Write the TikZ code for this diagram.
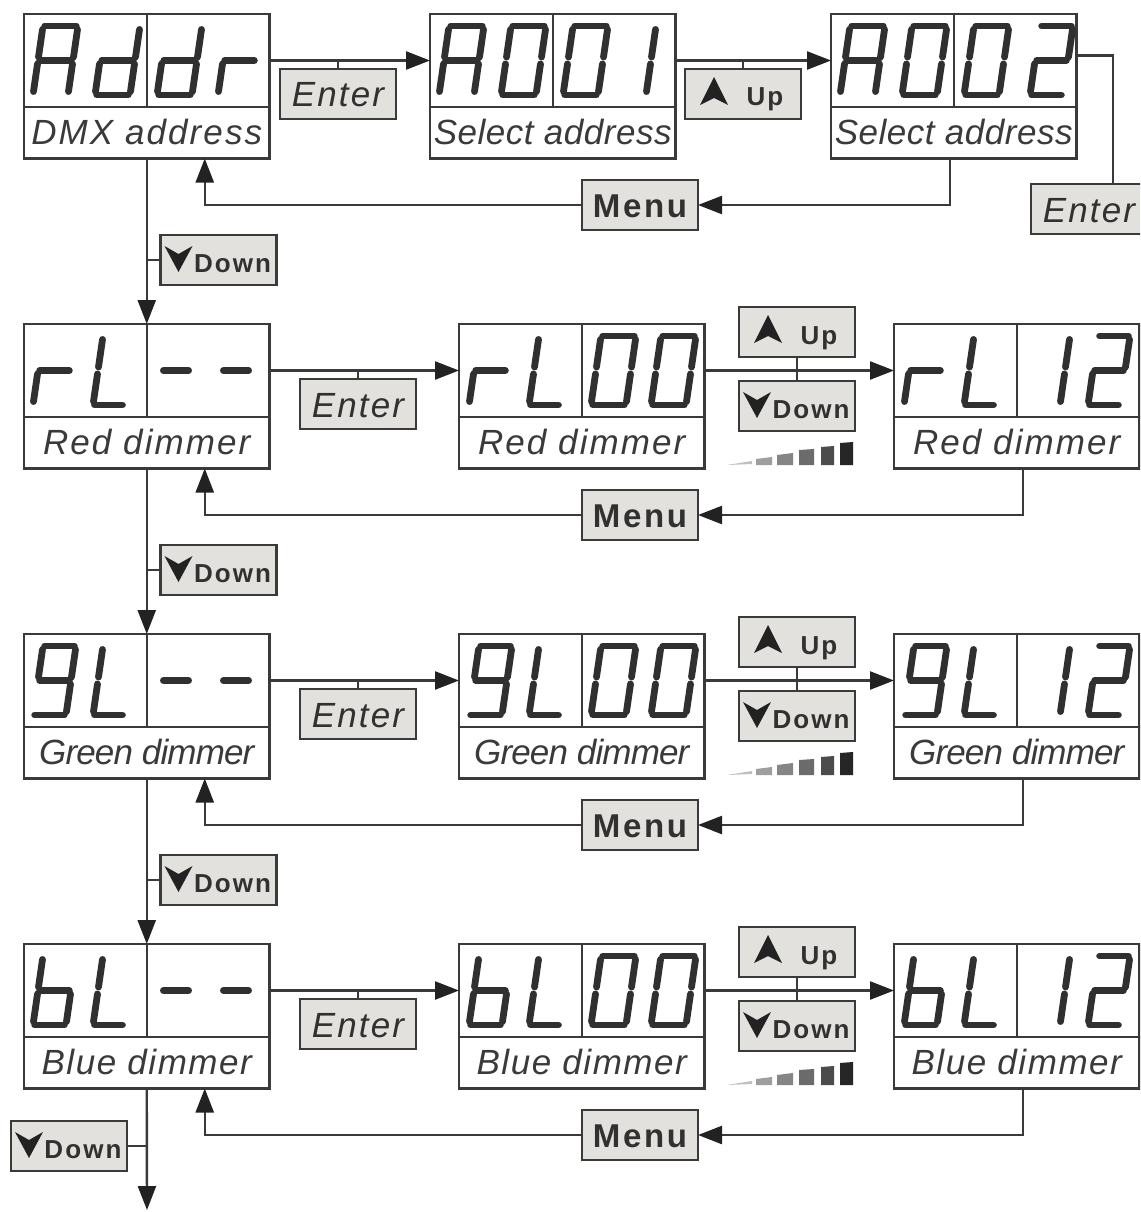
\documentclass[tikz,border=0pt]{standalone}
\usepackage{fontspec}
\setmainfont{Liberation Sans}
\usetikzlibrary{arrows.meta,calc}
\definecolor{ink}{HTML}{3A3A3A}
\definecolor{seg}{HTML}{303030}
\definecolor{btn}{HTML}{E2E1DD}
\definecolor{tip}{HTML}{222222}
\tikzset{
  panel/.style={draw=ink,line width=2.4pt,fill=white,inner sep=0pt,outer sep=0pt,text=ink,font=\itshape\fontsize{35}{38}\selectfont},
  dispT/.style={panel,minimum width=245.5pt,minimum height=93pt},
  dispL/.style={panel,minimum width=245.5pt,minimum height=51.5pt,text height=24pt,text depth=0pt},
  button/.style={draw=ink,line width=2.4pt,fill=btn,inner sep=0pt,outer sep=0pt,minimum width=116pt,minimum height=50.5pt,text=ink!85!black,text depth=0pt},
  enterbtn/.style={button,text height=26pt,font=\itshape\fontsize{35}{38}\selectfont},
  menubtn/.style={button,text height=24.5pt,font=\bfseries\fontsize{33}{36}\selectfont},
  smallbtn/.style={button,text height=24pt,font=\bfseries\fontsize{26}{30}\selectfont},
  wire/.style={draw=ink,line width=2.4pt},
  arr/.style={wire,-{Triangle[length=24pt,width=18pt,color=tip]}},
  segline/.style={draw=seg,line width=6.8pt,line cap=round}
}
\newcommand{\lsp}[2]{\addfontfeature{LetterSpace=#1}#2}
\def\sga{\draw[segline] (.05,1)--(.95,1);}
\def\sgb{\draw[segline] (1,.95)--(1,.55);}
\def\sgc{\draw[segline] (1,.45)--(1,.05);}
\def\sgd{\draw[segline] (.05,0)--(.95,0);}
\def\sge{\draw[segline] (0,.45)--(0,.05);}
\def\sgf{\draw[segline] (0,.95)--(0,.55);}
\def\sgg{\draw[segline] (.05,.5)--(.95,.5);}
% x of the lower left corner, y of the baseline, width, list of segments
\newcommand{\seven}[4]{%
  \begin{scope}[shift={(#1,#2)},x={(#3pt,0pt)},y={(10pt,69pt)}]
    \foreach \s in {#4} {\csname sg\s\endcsname}
  \end{scope}}
% name, left, top, label
\newcommand{\dispbox}[4]{%
  \node[dispT] (#1T) at (#2+122.75,#3+46.5) {};
  \node[dispL] (#1L) at (#2+122.75,#3+118.75) {#4};
  \draw[wire] (#1T.north) -- (#1T.south);}
\newcommand{\downbtn}[3]{% name, x, y
  \node[smallbtn] (#1) at (#2,#3) {\hspace*{28pt}\lsp{8}{Down}};
  \fill[tip,shift={(#1.west)}] (4,-14) -- (18,-6) -- (32,-14) -- (18,12) -- cycle;}
\newcommand{\upbtn}[3]{%
  \node[smallbtn] (#1) at (#2,#3) {\hspace*{44pt}\lsp{8}{Up}};
  \fill[tip,shift={(#1.west)}] (15,11) -- (29,-17) -- (43,11) -- (29,4) -- cycle;}
\newcommand{\ramp}[1]{%
  \begin{scope}[shift={(0,#1)}]
    \fill[black!25] (727,465) -- (752,461) -- (752,464) -- cycle;
    \fill[black!38] (756,459) -- (772,457) -- (772,465) -- (756,465) -- cycle;
    \fill[black!48] (777,455) -- (793,453) -- (793,465) -- (777,465) -- cycle;
    \fill[black!58] (799,450) -- (814,449) -- (814,465) -- (799,465) -- cycle;
    \fill[black!70] (821,447) -- (834,446) -- (834,465) -- (821,465) -- cycle;
    \fill[black!85] (840,443) -- (853,442) -- (853,465) -- (840,465) -- cycle;
  \end{scope}}
% prefix, top, segments of the first letter, label
\newcommand{\dimrow}[4]{%
  \dispbox{#1a}{24}{#2}{#4}
  \dispbox{#1b}{459}{#2}{#4}
  \dispbox{#1c}{894}{#2}{#4}
  \seven{33}{#2+81}{33}{#3}
  \seven{93}{#2+81}{31}{d,e,f}
  \seven{157}{#2+81}{28}{g}\seven{217}{#2+81}{28}{g}
  \seven{469}{#2+81}{33}{#3}\seven{529}{#2+81}{31}{d,e,f}
  \seven{591}{#2+81}{35}{a,b,c,d,e,f}\seven{651}{#2+81}{35}{a,b,c,d,e,f}
  \seven{904}{#2+81}{33}{#3}\seven{964}{#2+81}{31}{d,e,f}
  \seven{1029}{#2+81}{31}{b,c}\seven{1088}{#2+81}{32}{a,b,d,e,g}
  \node[enterbtn] (#1en) at (358,#2+80) {\lsp{6}{Enter}};
  \upbtn{#1up}{797}{#2+8}
  \downbtn{#1dn}{797}{#2+82}
  \ramp{#2-324}
  \node[menubtn] (#1me) at (640,#2+191) {\lsp{8}{Menu}};
  \draw[arr] (#1aT.east) -- (#1bT.west);
  \draw[wire] (#1en.north) -- (#1en.north |- #1aT.east);
  \draw[arr] (#1bT.east) -- (#1cT.west);
  \draw[wire] (#1up.south) -- (#1dn.north);
  \draw[arr] ([xshift=6pt]#1cL.south) |- (#1me.east);
  \draw[arr] (#1me.west) -| ([xshift=58pt]#1aL.south);
}
\begin{document}
\begin{tikzpicture}[x=1pt,y=-1pt]
\useasboundingbox (0,0) rectangle (1140,1212);
\clip (0,0) rectangle (1140,1212);
\fill[white] (0,0) rectangle (1140,1212);

% first row
\dispbox{ad}{24}{14}{\lsp{6}{DMX address}}
\dispbox{aa}{430}{14}{\lsp{1.5}{Select address}}
\dispbox{ab}{831}{14}{\lsp{1.5}{Select address}}
\seven{33}{95}{35}{a,b,c,e,f,g}\seven{95}{95}{35}{b,c,d,e,g}
\seven{157}{95}{35}{b,c,d,e,g}\seven{218}{95}{33}{e,g}
\seven{439}{95}{35}{a,b,c,e,f,g}\seven{501}{95}{35}{a,b,c,d,e,f}
\seven{563}{95}{35}{a,b,c,d,e,f}\seven{613}{95}{33}{b,c}
\seven{840}{95}{35}{a,b,c,e,f,g}\seven{902}{95}{35}{a,b,c,d,e,f}
\seven{964}{95}{35}{a,b,c,d,e,f}\seven{1030}{95}{33}{a,b,d,e,g}
\node[enterbtn] (en1) at (338,94) {\lsp{6}{Enter}};
\upbtn{up1}{743}{94}
\node[menubtn] (me1) at (640,205) {\lsp{8}{Menu}};
\node[enterbtn] (en2) at (1089,209) {\lsp{6}{Enter}};
\downbtn{dn1}{218.5}{260}
\draw[arr] (adT.east) -- (aaT.west);
\draw[wire] (en1.north) -- (en1.north |- adT.east);
\draw[arr] (aaT.east) -- (abT.west);
\draw[wire] (up1.north) -- (up1.north |- aaT.east);
\draw[wire] ([yshift=5pt]abT.east) -| ([xshift=24pt]en2.north);
\draw[arr] ([xshift=-4pt]abL.south) |- (me1.east);
\draw[arr] (me1.west) -| ([xshift=58pt]adL.south);

% dimmer rows
\dimrow{r}{324}{e,g}{\lsp{6}{Red dimmer}}
\dimrow{g}{634}{a,b,c,d,f,g}{\lsp{-2.4}{Green dimmer}}
\dimrow{b}{944}{c,d,e,f,g}{\lsp{4.4}{Blue dimmer}}
\downbtn{dn2}{218.5}{570}
\downbtn{dn3}{218.5}{880}
\downbtn{dn4}{69}{1146}
\coordinate (endc) at (147,1210);

% trunk
\draw[arr] (adL.south) -- (raT.north);
\draw[arr] (raL.south) -- (gaT.north);
\draw[arr] (gaL.south) -- (baT.north);
\draw[arr] (baL.south) -- (endc);
\draw[wire] (dn1.west) -- (dn1.west -| adL.south);
\draw[wire] (dn2.west) -- (dn2.west -| raL.south);
\draw[wire] (dn3.west) -- (dn3.west -| gaL.south);
\draw[wire] (dn4.east) -- (dn4.east -| baL.south);
\end{tikzpicture}
\end{document}
